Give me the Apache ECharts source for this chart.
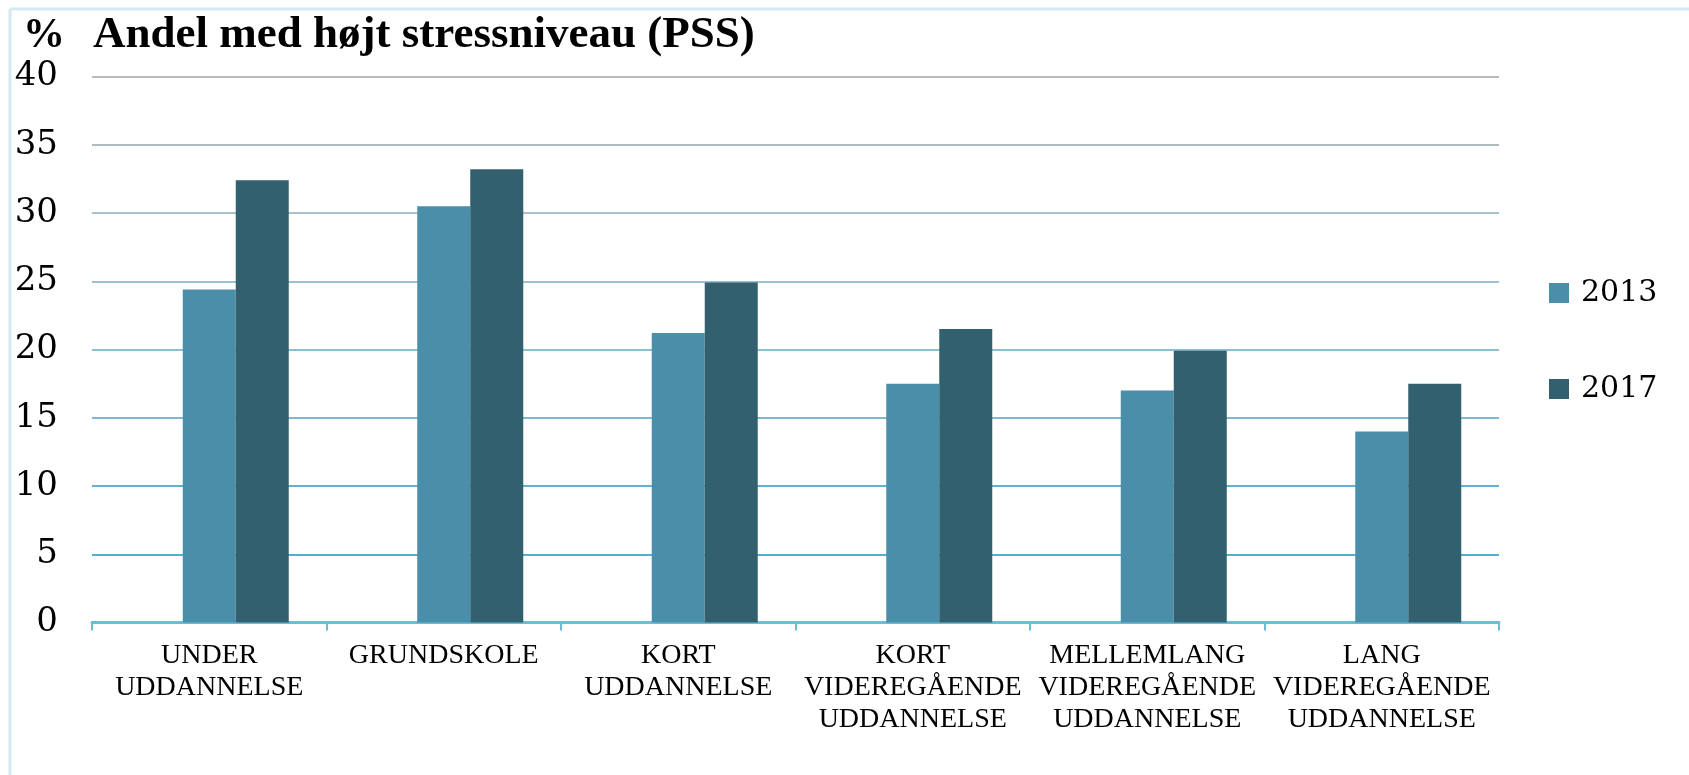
<!DOCTYPE html>
<html>
<head>
<meta charset="utf-8">
<script src="https://cdn.jsdelivr.net/npm/echarts@6/dist/echarts.min.js"></script>
<style>
html,body{margin:0;padding:0;background:#fff;}
#chart{width:1689px;height:775px;}
</style>
</head>
<body>
<div id="chart"></div>
<script>
const categories = ['UNDER\nUDDANNELSE', 'GRUNDSKOLE', 'KORT\nUDDANNELSE', 'KORT\nVIDEREGÅENDE\nUDDANNELSE', 'MELLEMLANG\nVIDEREGÅENDE\nUDDANNELSE', 'LANG\nVIDEREGÅENDE\nUDDANNELSE'];
const values2013 = [24.4, 30.5, 21.2, 17.5, 17.0, 14.0];
const values2017 = [32.4, 33.2, 24.9, 21.5, 19.9, 17.5];
const emptySlot = [null, null, null, null, null, null];
const seriesNames = ['2013', '2017'];
const titleText = 'Andel med højt stressniveau (PSS)';
const unitText = '%';

const gridColors = ['#6cbcd8', '#55aed0', '#62b2cf', '#7cbad1', '#8ebfd0', '#9cc1cf', '#a8c1cb', '#b1bcc1', '#bababa'];

const chart = echarts.init(document.getElementById('chart'), null, {renderer: 'canvas'});
const option = {
  backgroundColor: '#ffffff',
  animation: false,
  graphic: [
    {type: 'line', shape: {x1: 10, y1: 9, x2: 10, y2: 775}, style: {stroke: '#d3eaf2', lineWidth: 3}},
    {type: 'line', shape: {x1: 10, y1: 9, x2: 1689, y2: 9}, style: {stroke: '#d3eaf2', lineWidth: 3}}
  ],
  title: [
    {text: unitText, left: 23, top: 14, padding: 0, textStyle: {fontFamily: 'Liberation Serif', fontWeight: 'bold', fontSize: 42, lineHeight: 44, color: '#000'}},
    {text: titleText, left: 93, top: 13, padding: 0, textStyle: {fontFamily: 'Liberation Serif', fontWeight: 'bold', fontSize: 45, lineHeight: 44, color: '#000'}}
  ],
  legend: {
    data: seriesNames,
    orient: 'vertical',
    left: 1544,
    top: 273,
    itemWidth: 20,
    itemHeight: 20,
    itemGap: 66,
    icon: 'rect',
    textStyle: {fontFamily: 'DejaVu Serif', fontSize: 30, lineHeight: 20, color: '#000', padding: [0, 0, 0, 7]}
  },
  grid: {left: 92, top: 76.5, width: 1407, height: 546, containLabel: false},
  xAxis: {
    type: 'category',
    data: categories,
    axisLine: {lineStyle: {color: '#6cbcd8', width: 3}},
    axisTick: {show: true, length: 8, lineStyle: {color: '#6cbcd8', width: 2}},
    axisLabel: {fontFamily: 'Liberation Serif', fontSize: 28, lineHeight: 32, color: '#000', margin: 17, interval: 0}
  },
  yAxis: {
    type: 'value',
    min: 0,
    max: 40,
    interval: 5,
    axisLine: {show: false},
    axisTick: {show: false},
    axisLabel: {fontFamily: 'DejaVu Serif', fontSize: 34, color: '#000', margin: 34},
    splitLine: {lineStyle: {color: gridColors, width: 2}}
  },
  series: [
    {name: '', type: 'bar', data: emptySlot, barWidth: 53, barGap: '0%', silent: true},
    {name: seriesNames[0], type: 'bar', data: values2013, barWidth: 53, barGap: '0%', itemStyle: {color: '#4b8ea9'}},
    {name: seriesNames[1], type: 'bar', data: values2017, barWidth: 53, barGap: '0%', itemStyle: {color: '#32606f'}}
  ]
};
chart.setOption(option);
</script>
</body>
</html>
